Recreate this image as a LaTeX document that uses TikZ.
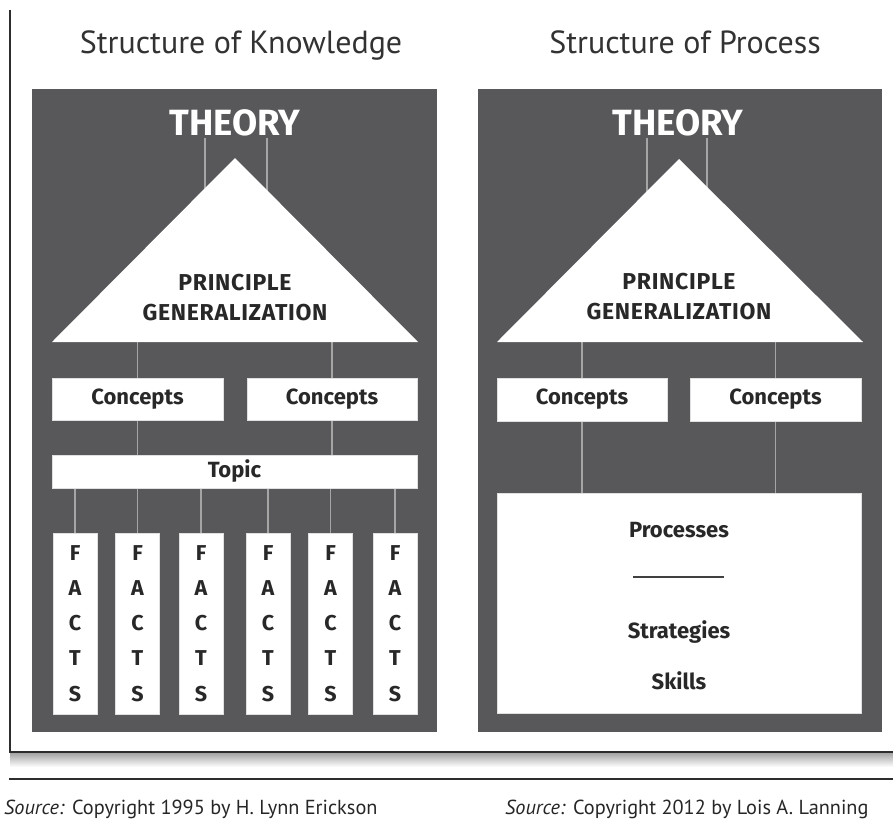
\documentclass[tikz,border=0pt]{standalone}
\usepackage{fontspec}
\setmainfont{PT Sans}
\newfontfamily\boxfont{Fira Sans}
\newfontfamily\capfont[LetterSpace=3]{Fira Sans}
\usetikzlibrary{backgrounds}
\pgfdeclarelayer{lines}
\pgfsetlayers{background,lines,main}
\definecolor{panel}{RGB}{88,88,91}
\definecolor{conn}{RGB}{165,165,165}
\definecolor{boxtext}{RGB}{40,40,40}
\definecolor{titletext}{RGB}{50,50,50}
\definecolor{frameline}{RGB}{45,45,45}
\tikzset{
  panelbox/.style={fill=panel, draw=none, inner sep=0pt},
  whitebox/.style={fill=white, draw=black!12, line width=0.6pt, inner sep=0pt,
    text=boxtext, font=\boxfont\bfseries\fontsize{22}{26}\selectfont},
  factbox/.style={whitebox, minimum width=44pt, minimum height=181pt, align=center,
    font=\boxfont\bfseries\fontsize{21.5}{35.2}\selectfont},
  conline/.style={draw=conn, line width=1.8pt},
  titlelabel/.style={text=titletext, font=\fontsize{32}{38}\selectfont, inner sep=0pt, anchor=base},
  theorylabel/.style={text=white, font=\boxfont\bfseries\fontsize{36.5}{42}\selectfont, inner sep=2pt, anchor=base},
  genlabel/.style={text=boxtext, align=center, inner sep=0pt,
    font=\capfont\bfseries\fontsize{23}{30}\selectfont},
  proclabel/.style={text=boxtext, inner sep=0pt,
    font=\boxfont\bfseries\fontsize{22}{26}\selectfont},
  sourcelabel/.style={text=black!85, font=\fontsize{20.3}{24}\selectfont, inner sep=0pt, anchor=base west},
  frame/.style={draw=frameline, line width=1.5pt},
}
\begin{document}
\begin{tikzpicture}[x=1pt,y=-1pt]
\useasboundingbox (0,0) rectangle (893,820);

% outer frame with shadow
\shade[top color=black!35, bottom color=white] (10,753) rectangle (893,767);
\draw[frame] (10,10) -- (10,752) -- (893,752);
\draw[frame, line width=1.3pt] (9,779) -- (893,779);

% titles
\node[titlelabel] (titleK) at (241,53) {Structure of Knowledge};
\node[titlelabel] (titleP) at (685,53) {Structure of Process};

% panels
\begin{pgfonlayer}{background}
\node[panelbox, minimum width=405pt, minimum height=643pt] (panelK) at (234.5,410.5) {};
\node[panelbox, minimum width=404pt, minimum height=643pt] (panelP) at (679.5,410.5) {};
\end{pgfonlayer}

%================ LEFT: Structure of Knowledge
\node[theorylabel] (thK) at (235,135.5) {THEORY};
\coordinate (apexK) at (235,158);
\coordinate (blK) at (52,342);
\coordinate (brK) at (418,342);
\coordinate (innerK) at (235,240);
\fill[white] (apexK) -- (blK) -- (brK) -- cycle;
\node[genlabel] (genK) at (235,298) {PRINCIPLE\\GENERALIZATION};

\node[whitebox, minimum width=171pt, minimum height=42pt] (K1) at (137.5,399) {Concepts};
\node[whitebox, minimum width=170pt, minimum height=42pt] (K2) at (332,399) {Concepts};
\node[whitebox, minimum width=365pt, minimum height=33pt] (topic) at (234.5,471.5) {Topic};

\foreach \i/\x in {1/75,2/137.5,3/201,4/268,5/330.5,6/395}{
  \node[factbox] (F\i) at (\x,623.5) {F\\A\\C\\T\\S};
}

\begin{pgfonlayer}{lines}
\draw[conline] ([xshift=-30pt]thK.south) -- ([xshift=-30pt]thK.south |- innerK);
\draw[conline] ([xshift=32pt]thK.south) -- ([xshift=32pt]thK.south |- innerK);
\draw[conline] (K1.north) -- (K1.north |- blK);
\draw[conline] (K2.north) -- (K2.north |- blK);
\draw[conline] (K1.south) -- (K1.south |- topic.north);
\draw[conline] (K2.south) -- (K2.south |- topic.north);
\foreach \i in {1,...,6}{
  \draw[conline] (F\i.north) -- (F\i.north |- topic.south);
}
\end{pgfonlayer}

%================ RIGHT: Structure of Process
\node[theorylabel] (thP) at (678,135.5) {THEORY};
\coordinate (apexP) at (679,159);
\coordinate (blP) at (497,342);
\coordinate (brP) at (863,342);
\coordinate (innerP) at (679,240);
\fill[white] (apexP) -- (blP) -- (brP) -- cycle;
\node[genlabel] (genP) at (679,297) {PRINCIPLE\\GENERALIZATION};

\node[whitebox, minimum width=170pt, minimum height=43pt] (P1) at (582,399.5) {Concepts};
\node[whitebox, minimum width=171pt, minimum height=43pt] (P2) at (775.5,399.5) {Concepts};
\node[whitebox, minimum width=364pt, minimum height=220pt] (proc) at (679,603) {};

\node[proclabel] (procT) at (679,530) {Processes};
\coordinate (ruleL) at (633,577);
\coordinate (ruleR) at (724,577);
\draw[draw=black!75, line width=2pt] (ruleL) -- (ruleR);
\node[proclabel] (stratT) at (679,632) {Strategies};
\node[proclabel] (skillT) at (679,681) {Skills};

\begin{pgfonlayer}{lines}
\draw[conline] ([xshift=-31pt]thP.south) -- ([xshift=-31pt]thP.south |- innerP);
\draw[conline] ([xshift=29pt]thP.south) -- ([xshift=29pt]thP.south |- innerP);
\draw[conline] (P1.north) -- (P1.north |- blP);
\draw[conline] (P2.north) -- (P2.north |- blP);
\draw[conline] (P1.south) -- (P1.south |- proc.north);
\draw[conline] (P2.south) -- (P2.south |- proc.north);
\end{pgfonlayer}

% sources
\node[sourcelabel] (srcK) at (4,814) {\textit{Source:} Copyright 1995 by H. Lynn Erickson};
\node[sourcelabel] (srcP) at (505,814) {\textit{Source:} Copyright 2012 by Lois A. Lanning};
\end{tikzpicture}
\end{document}
